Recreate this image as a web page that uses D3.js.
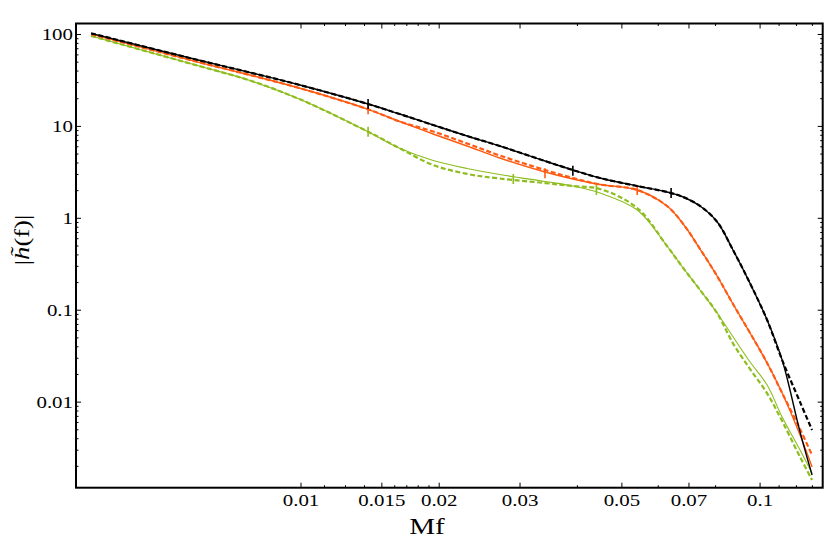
<!DOCTYPE html>
<html><head><meta charset="utf-8">
<script src="https://cdn.jsdelivr.net/npm/d3@7/dist/d3.min.js"></script>
<style>body{margin:0;background:#fff}svg{display:block}</style>
</head><body><svg id="c" width="830" height="543"></svg>
<script>
// ---- data ----
const mf = [0.00349, 0.006, 0.00774, 0.00995, 0.014, 0.0164, 0.0194, 0.023, 0.0271, 0.034, 0.0391, 0.0448, 0.054, 0.0627, 0.068, 0.074, 0.0806, 0.0873, 0.0951, 0.1036, 0.1117, 0.1222, 0.1298];
const blackSolid  = [103, 52.4, 38.6, 28.2, 17.53, 13.64, 10.36, 7.86, 6.12, 4.20, 3.355, 2.745, 2.246, 1.933, 1.705, 1.361, 0.918, 0.452, 0.196, 0.0782, 0.0287, 0.00473, 0.00161];
const blackDashed = [103, 52.4, 38.6, 28.2, 17.53, 13.64, 10.36, 7.86, 6.12, 4.20, 3.355, 2.745, 2.246, 1.933, 1.705, 1.361, 0.918, 0.452, 0.196, 0.0782, 0.0287, 0.0100, 0.00497];
const orangeSolid  = [101, 49.8, 36.2, 26.0, 15.35, 11.31, 8.27, 6.12, 4.53, 3.19, 2.677, 2.332, 2.032, 1.361, 0.867, 0.4634, 0.2356, 0.1168, 0.0565, 0.02663, 0.01256, 0.004385, 0.001968];
const orangeDashed = [101, 49.8, 36.2, 26.0, 15.35, 11.31, 8.80, 6.52, 4.825, 3.355, 2.745, 2.332, 2.032, 1.361, 0.867, 0.4634, 0.2356, 0.1168, 0.0565, 0.02663, 0.01256, 0.00509, 0.00265];
const greenSolid  = [96.3, 45.4, 31.6, 19.7, 8.75, 5.78, 4.256, 3.483, 2.997, 2.515, 2.246, 1.885, 1.231, 0.4995, 0.2878, 0.166, 0.0932, 0.0515, 0.0273, 0.01535, 0.00689, 0.00301, 0.00168];
const greenDashed = [96.3, 45.4, 31.6, 19.7, 8.75, 5.78, 3.80, 3.04, 2.71, 2.42, 2.246, 2.084, 1.294, 0.4995, 0.2878, 0.166, 0.0932, 0.0436, 0.0229, 0.01247, 0.00622, 0.00253, 0.00142];
const blackTicksX = [0.014, 0.0391, 0.064],  blackTicksY = [17.53, 3.30, 1.885];
const orangeTicksX = [0.014, 0.034, 0.054],  orangeTicksY = [15.35, 3.10, 2.03];
const greenTicksX = [0.014, 0.029, 0.044],   greenTicksY = [8.75, 2.677, 2.03];
const xMajor = [0.01, 0.015, 0.02, 0.03, 0.05, 0.07, 0.1];
const xMajorLabels = ["0.01", "0.015", "0.02", "0.03", "0.05", "0.07", "0.1"];
const xMinor = [0.01125, 0.0125, 0.01375, 0.016, 0.017, 0.018, 0.019, 0.04, 0.06, 0.08, 0.11, 0.12, 0.13];
const yMajor = [100, 10, 1, 0.1, 0.01];
const yMajorLabels = ["100", "10", "1", "0.1", "0.01"];
const xLabel = "Mf";

// ---- layout ----
const FONT = "'Liberation Serif', Tinos, 'Times New Roman', 'Nimbus Roman', FreeSerif, 'DejaVu Serif', serif";
const L = 76, R = 822.7, T = 23.5, B = 487.7;
const x = d3.scaleLog().domain([0.003235, 0.1369]).range([L, R]);
const y = d3.scaleLog().domain([131.7, 0.001172]).range([T, B]);
const svg = d3.select("#c");

const yMinor = [];
[0.001, 0.01, 0.1, 1, 10, 100].forEach(d => { for (let k = 2; k <= 9; k++) { const v = d * k; if (v > 0.001172 && v < 131.7) yMinor.push(v); } });

svg.append("clipPath").attr("id", "clip").append("rect").attr("x", L).attr("y", T).attr("width", R - L).attr("height", B - T);
const g = svg.append("g").attr("clip-path", "url(#clip)");

const line = arr => d3.line().x((d, i) => x(mf[i])).y(d => y(d)).curve(d3.curveCatmullRom.alpha(0.5))(arr);

const series = [
  {solid: greenSolid, dashed: greenDashed, color: "#8dbd1f", sw: 1.1, tx: greenTicksX, ty: greenTicksY},
  {solid: orangeSolid, dashed: orangeDashed, color: "#ff5a12", sw: 1.4, tx: orangeTicksX, ty: orangeTicksY},
  {solid: blackSolid, dashed: blackDashed, color: "#000000", sw: 1.4, tx: blackTicksX, ty: blackTicksY}
];
series.forEach(s => {
  g.append("path").attr("d", line(s.solid)).attr("fill", "none").attr("stroke", s.color).attr("stroke-width", s.sw);
  g.append("path").attr("d", line(s.dashed)).attr("fill", "none").attr("stroke", s.color).attr("stroke-width", 2.2).attr("stroke-dasharray", "5,2.5");
  s.tx.forEach((v, i) => {
    g.append("line").attr("x1", x(v)).attr("x2", x(v)).attr("y1", y(s.ty[i]) - 5).attr("y2", y(s.ty[i]) + 5)
      .attr("stroke", s.color).attr("stroke-width", 1.6);
  });
});

// ---- frame ticks ----
const tk = svg.append("g").attr("stroke", "#000").attr("stroke-width", 1);
xMajor.forEach(v => {
  tk.append("line").attr("x1", x(v)).attr("x2", x(v)).attr("y1", B).attr("y2", B - 5);
  tk.append("line").attr("x1", x(v)).attr("x2", x(v)).attr("y1", T).attr("y2", T + 5);
});
xMinor.forEach(v => {
  tk.append("line").attr("x1", x(v)).attr("x2", x(v)).attr("y1", B).attr("y2", B - 2.5);
  tk.append("line").attr("x1", x(v)).attr("x2", x(v)).attr("y1", T).attr("y2", T + 2.5);
});
yMajor.forEach(v => {
  tk.append("line").attr("x1", L).attr("x2", L + 5).attr("y1", y(v)).attr("y2", y(v));
  tk.append("line").attr("x1", R).attr("x2", R - 5).attr("y1", y(v)).attr("y2", y(v));
});
yMinor.forEach(v => {
  tk.append("line").attr("x1", L).attr("x2", L + 2.5).attr("y1", y(v)).attr("y2", y(v));
  tk.append("line").attr("x1", R).attr("x2", R - 2.5).attr("y1", y(v)).attr("y2", y(v));
});

svg.append("rect").attr("x", L).attr("y", T).attr("width", R - L).attr("height", B - T)
  .attr("fill", "none").attr("stroke", "#000").attr("stroke-width", 2);

// ---- labels: horizontal stretch fitted so "0.015" is ~47px wide as in the reference ----
const probe = svg.append("text").attr("font-family", FONT).attr("font-size", 16.5).text("0.015");
const sx = Math.max(0.9, Math.min(1.35, 47 / probe.node().getComputedTextLength()));
probe.remove();
function label(px, py, txt, size, anchor, rot) {
  const gg = svg.append("g").attr("transform", `translate(${px},${py}) rotate(${rot || 0}) scale(${sx},1)`);
  return gg.append("text").attr("text-anchor", anchor).attr("font-family", FONT).attr("font-size", size).attr("fill", "#000").text(txt);
}
xMajor.forEach((v, i) => label(x(v), 506, xMajorLabels[i], 16.5, "middle"));
yMajor.forEach((v, i) => label(73, y(v) + 5.5, yMajorLabels[i], 16.5, "end"));
label(427, 534, xLabel, 23, "middle");
const yl = label(29, 240, "", 21, "middle", -90);
yl.append("tspan").text("|");
yl.append("tspan").attr("font-style", "italic").text("h\u0303");
yl.append("tspan").text("(f)|");
</script></body></html>
